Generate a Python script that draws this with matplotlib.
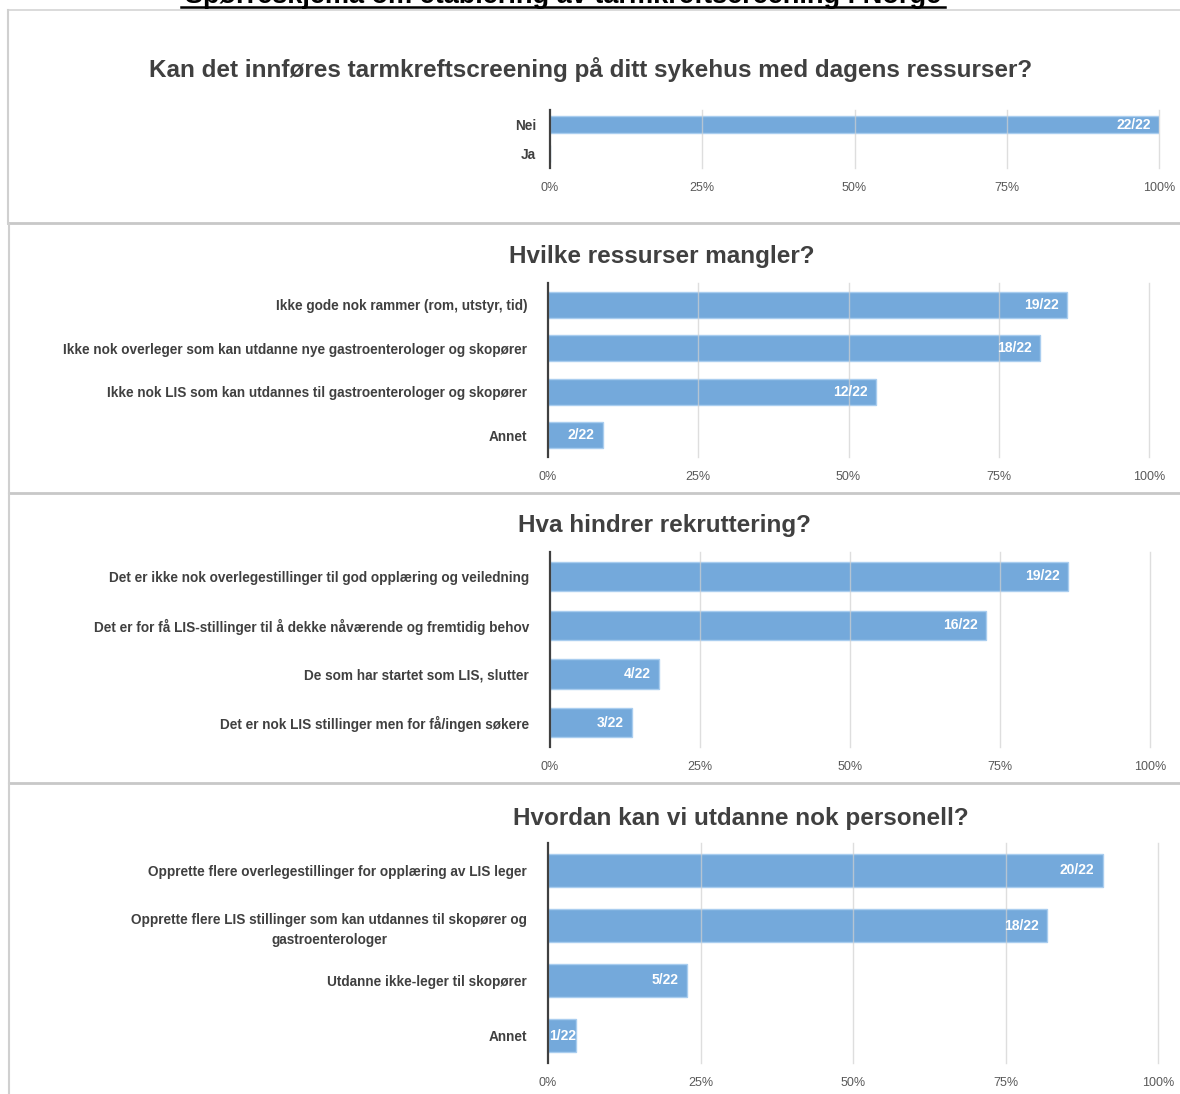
import matplotlib
matplotlib.use("Agg")
import matplotlib.pyplot as plt
from matplotlib.lines import Line2D

plt.rcParams['font.family'] = ['Liberation Sans', 'DejaVu Sans']

W, H = 1180, 1094
TOTAL = 22

main_title = "Spørreskjema om etablering av tarmkreftscreening i Norge"

q1_title = "Kan det innføres tarmkreftscreening på ditt sykehus med dagens ressurser?"
q1_cats = ["Nei", "Ja"]
q1_vals = [22, 0]

q2_title = "Hvilke ressurser mangler?"
q2_cats = ["Ikke gode nok rammer (rom, utstyr, tid)",
           "Ikke nok overleger som kan utdanne nye gastroenterologer og skopører",
           "Ikke nok LIS som kan utdannes til gastroenterologer og skopører",
           "Annet"]
q2_vals = [19, 18, 12, 2]

q3_title = "Hva hindrer rekruttering?"
q3_cats = ["Det er ikke nok overlegestillinger til god opplæring og veiledning",
           "Det er for få LIS-stillinger til å dekke nåværende og fremtidig behov",
           "De som har startet som LIS, slutter",
           "Det er nok LIS stillinger men for få/ingen søkere"]
q3_vals = [19, 16, 4, 3]

q4_title = "Hvordan kan vi utdanne nok personell?"
q4_cats = ["Opprette flere overlegestillinger for opplæring av LIS leger",
           "Opprette flere LIS stillinger som kan utdannes til skopører og\ngastroenterologer",
           "Utdanne ikke-leger til skopører",
           "Annet"]
q4_vals = [20, 18, 5, 1]

xticks = [0, 0.25, 0.5, 0.75, 1.0]
xticklabels = ["0%", "25%", "50%", "75%", "100%"]

BAR = "#74a9db"
EDGE = "#a9cdef"
TXT = "#404040"

fig = plt.figure(figsize=(W / 100, H / 100), dpi=100)


def fx(x):
    return x / W


def fy(y):
    return 1 - y / H


def hline(y, x0, x1, lw=2.0, color="#c8c8c8"):
    fig.add_artist(Line2D([fx(x0), fx(x1)], [fy(y), fy(y)], color=color, lw=lw,
                          transform=fig.transFigure))


def vline(x, y0, y1, lw=1.5, color="#d0d0d0"):
    fig.add_artist(Line2D([fx(x), fx(x)], [fy(y0), fy(y1)], color=color, lw=lw,
                          transform=fig.transFigure))


# panel borders
hline(10, 8, 1180, lw=1.2, color="#d4d4d4")
hline(223, 8, 1180)
hline(493, 9, 1180)
hline(783, 9, 1180)
vline(8, 10, 223)
vline(9, 224, 493)
vline(9, 494, 783)
vline(9, 784, 1094)

# main title (cut off at top, as in the source image)
fig.text(fx(563), fy(3), main_title, ha="center", va="baseline",
         fontsize=19.5, fontweight="bold", color="black")
hline(7, 181, 945, lw=1.8, color="black")


def panel(box, title, title_xy, cats, vals, ypad=15):
    x0, y0, x1, y1 = box
    ax = fig.add_axes([fx(x0), fy(y1), fx(x1 - x0), (y1 - y0) / H])
    n = len(cats)
    pos = list(range(n))
    fr = [v / TOTAL for v in vals]
    ax.barh(pos, fr, height=0.6, color=BAR, edgecolor=EDGE, linewidth=1.0, zorder=2)
    ax.set_ylim(n - 0.5, -0.5)
    ax.set_xlim(0, 1)
    ax.set_yticks(pos)
    ax.set_yticklabels(cats, fontsize=9.8, fontweight="bold", color=TXT,
                       multialignment="center", linespacing=1.55)
    ax.set_xticks(xticks)
    ax.set_xticklabels(xticklabels, fontsize=9, color="#595959")
    ax.tick_params(axis="both", length=0)
    ax.tick_params(axis="y", pad=ypad)
    ax.tick_params(axis="x", pad=10)
    for s in ["top", "right", "bottom"]:
        ax.spines[s].set_visible(False)
    ax.spines["left"].set_color(TXT)
    ax.spines["left"].set_linewidth(1.6)
    ax.spines["left"].set_zorder(4)
    for t in xticks[1:]:
        ax.axvline(t, color="#d0d0d0", lw=1.0, alpha=0.7, zorder=3, clip_on=False)
    for p, f, v in zip(pos, fr, vals):
        if v > 0:
            if f < 0.06:
                ax.annotate(f"{v}/{TOTAL}", (0, p), xytext=(0.5, 0), textcoords="offset points",
                            ha="left", va="center", color="white", fontsize=10,
                            fontweight="bold", zorder=5)
            else:
                ax.annotate(f"{v}/{TOTAL}", (f, p), xytext=(-6, 0), textcoords="offset points",
                            ha="right", va="center", color="white", fontsize=10,
                            fontweight="bold", zorder=5)
    ax.set_facecolor("none")
    fig.text(fx(title_xy[0]), fy(title_xy[1]), title, ha="center", va="center",
             fontsize=17.5, fontweight="bold", color=TXT)
    return ax


panel((550, 110, 1159, 168), q1_title, (591, 70), q1_cats, q1_vals, ypad=10)
panel((548, 283, 1149, 457), q2_title, (662, 257), q2_cats, q2_vals)
panel((550, 552, 1150, 747), q3_title, (664, 525), q3_cats, q3_vals)
panel((548, 843, 1158, 1063), q4_title, (741, 818), q4_cats, q4_vals)

fig.savefig("out.png", dpi=100)
